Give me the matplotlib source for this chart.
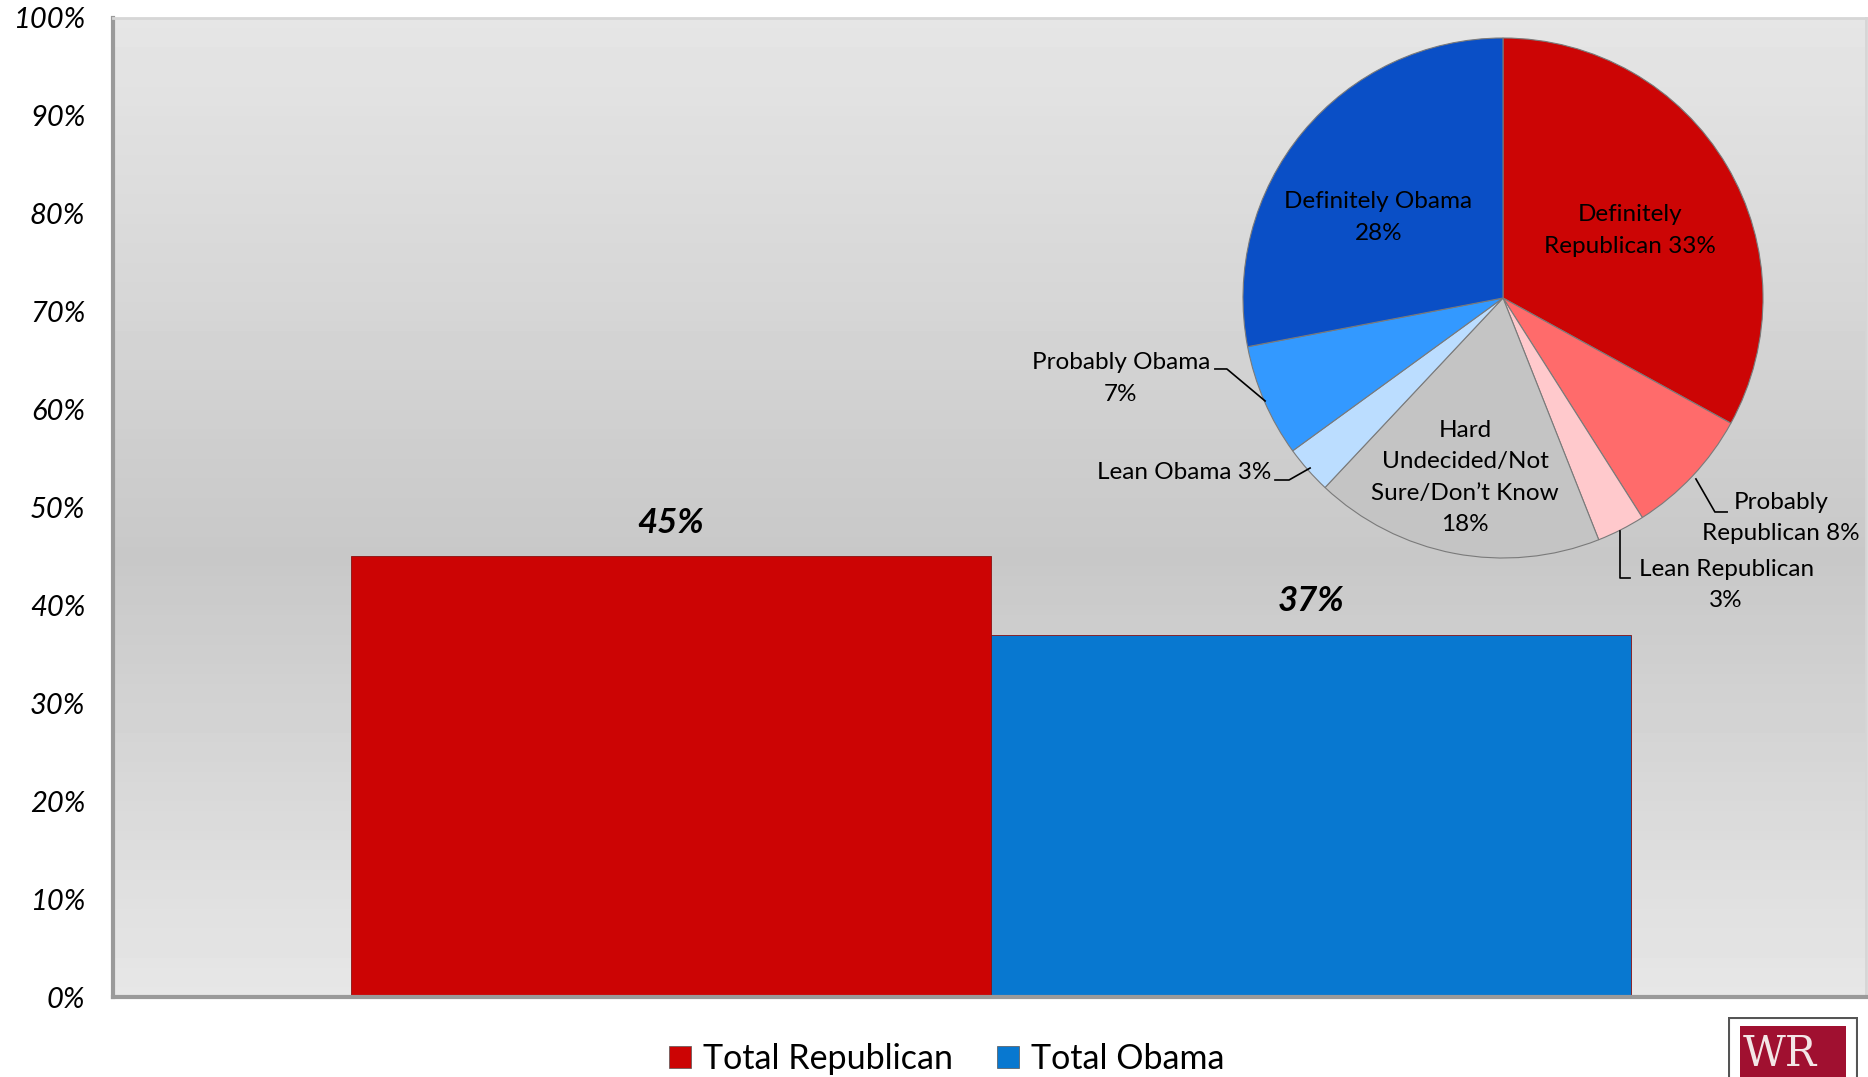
import numpy as np
import matplotlib.pyplot as plt
from matplotlib.patches import Rectangle, Patch

plt.rcParams['font.family'] = ['Lato', 'DejaVu Sans']

# bar data
bar_names = ['Total Republican', 'Total Obama']
bar_values = [45, 37]
bar_colors = ['#CC0404', '#0878D0']

# pie data (clockwise from 12 o'clock)
pie_names = ['Definitely Republican', 'Probably Republican', 'Lean Republican',
             'Hard Undecided/Not Sure/Don\u2019t Know', 'Lean Obama',
             'Probably Obama', 'Definitely Obama']
pie_values = [33, 8, 3, 18, 3, 7, 28]
pie_colors = ['#CC0505', '#FF6B6B', '#FFC9CC', '#C4C4C4', '#BBDDFF',
              '#3399FF', '#0A4FC6']

y_ticks = list(range(0, 101, 10))

fig = plt.figure(figsize=(18.68, 10.77), dpi=100)
ax = fig.add_axes([113 / 1868, 1 - 997 / 1077, 1753 / 1868, 979 / 1077])

# grey gradient backdrop
grad = np.concatenate([np.linspace(0.90, 0.785, 55), np.linspace(0.785, 0.905, 45)])
ax.imshow(np.tile(grad[:, None], (1, 2)), cmap='gray', vmin=0, vmax=1,
          extent=[-0.372, 2.367, 0, 100], aspect='auto', zorder=0)

x = np.arange(len(bar_values))
ax.bar(x, bar_values, width=1, align='edge', color=bar_colors,
       edgecolor='#8A1010', linewidth=0.6, zorder=2)
for xi, v in zip(x, bar_values):
    ax.text(xi + 0.5, v + 3.4, f'{v}%', ha='center', va='center',
            fontsize=25, fontweight='bold', style='italic', zorder=3)

ax.set_xlim(-0.372, 2.367)
ax.set_ylim(0, 100)
ax.set_xticks([])
ax.set_yticks(y_ticks)
ax.set_yticklabels([f'{t}%' for t in y_ticks], fontsize=21, style='italic')
ax.tick_params(axis='y', length=0, pad=20)
for side in ['left', 'bottom']:
    ax.spines[side].set_color('#9A9A9A')
    ax.spines[side].set_linewidth(3)
for side in ['top', 'right']:
    ax.spines[side].set_color('#D6D6D6')
    ax.spines[side].set_linewidth(2)

# pie inset
pax = fig.add_axes([1243 / 1868, 1 - 558 / 1077, 520 / 1868, 520 / 1077])
pax.pie(pie_values, colors=pie_colors, startangle=90, counterclock=False,
        radius=1, wedgeprops=dict(edgecolor='#7A7A7A', linewidth=0.8))
pax.set_xlim(-1, 1)
pax.set_ylim(-1, 1)
pax.set_aspect('equal')
pax.axis('off')

lab = dict(fontsize=17.5, ha='center', va='center', linespacing=1.62)
pax.text(-0.48, 0.31, 'Definitely Obama\n28%', **lab)
pax.text(0.49, 0.26, 'Definitely\nRepublican 33%', **lab)
pax.text(-0.146, -0.69, 'Hard\nUndecided/Not\nSure/Don\u2019t Know\n18%', **lab)
pax.text(-1.47, -0.31, 'Probably Obama\n7%', clip_on=False, **lab)
pax.text(1.07, -0.846, 'Probably\nRepublican 8%', clip_on=False, **lab)
pax.text(0.858, -1.104, 'Lean Republican\n3%', clip_on=False, **lab)
pax.text(-0.89, -0.673, 'Lean Obama 3%', fontsize=17.5, ha='right', va='center',
         clip_on=False)

leaders = [
    ([-1.108, -1.062, -0.915], [-0.273, -0.273, -0.396]),
    ([-0.877, -0.823, -0.742], [-0.70, -0.70, -0.654]),
    ([0.742, 0.815, 0.862], [-0.696, -0.823, -0.823]),
    ([0.45, 0.45, 0.488], [-0.896, -1.077, -1.077]),
]
for lx, ly in leaders:
    pax.plot(lx, ly, color='black', linewidth=1.2, clip_on=False)

handles = [Patch(facecolor=c, edgecolor='#555555', linewidth=0.5) for c in bar_colors]
fig.legend(handles, bar_names, loc='center', bbox_to_anchor=(947 / 1868, 1 - 1059 / 1077),
           ncol=2, frameon=False, fontsize=24.5, handlelength=0.65, handleheight=0.65,
           handletextpad=0.35, columnspacing=1.3)

# logo in the corner
lax = fig.add_axes([1728 / 1868, 0, 130 / 1868, 60 / 1077])
lax.set_xlim(0, 130)
lax.set_ylim(0, 60)
lax.axis('off')
lax.add_patch(Rectangle((1, -5), 128, 64, facecolor='white', edgecolor='#555555', linewidth=1.5))
lax.add_patch(Rectangle((12, -5), 106, 56, facecolor='#A01030', edgecolor='none'))
lax.text(52, 2, 'WR', fontsize=30, color='#F3E6E6', family='DejaVu Serif',
         ha='center', va='bottom', clip_on=True)

fig.savefig('out.png', dpi=100)
